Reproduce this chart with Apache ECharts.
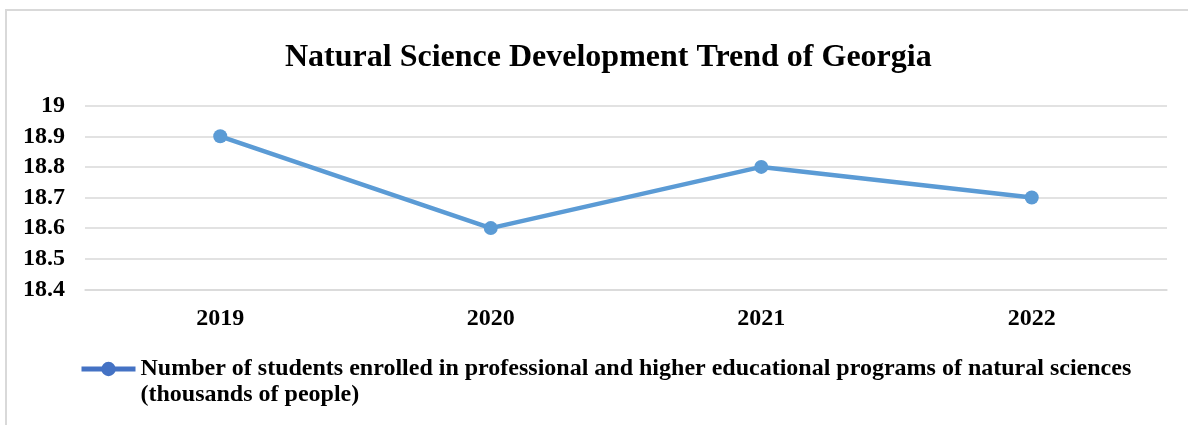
<!DOCTYPE html>
<html>
<head>
<meta charset="utf-8">
<script src="https://cdn.jsdelivr.net/npm/echarts@6/dist/echarts.min.js"></script>
<style>
  html, body { margin: 0; padding: 0; background: #fff; }
  #chart { width: 1188px; height: 425px; }
</style>
</head>
<body>
<div id="chart"></div>
<script>
// Enrolment in natural-science programmes, Georgia (thousands of people)
const titleText = 'Natural Science Development Trend of Georgia';
const years = ['2019', '2020', '2021', '2022'];
const students = [18.9, 18.6, 18.8, 18.7];
const seriesName = 'Number of students enrolled in professional and higher educational programs of natural sciences (thousands of people)';
const legendLines = ['Number of students enrolled in professional and higher educational programs of natural sciences', '(thousands of people)'];
const yMin = 18.4, yMax = 19, yStep = 0.1;

const serif = '"Liberation Serif", "Times New Roman", serif';
const chart = echarts.init(document.getElementById('chart'), null, { renderer: 'canvas' });

chart.setOption({
  backgroundColor: '#ffffff',
  animation: false,
  graphic: [{
    type: 'rect',
    shape: { x: 6, y: 10, width: 1220, height: 500 },
    style: { fill: 'none', stroke: '#d9d9d9', lineWidth: 2 },
    silent: true
  }],
  title: {
    text: titleText,
    left: 285,
    top: 42,
    padding: 0,
    textStyle: { fontFamily: serif, fontWeight: 'bold', fontSize: 32, color: '#000' }
  },
  legend: {
    left: 79,
    top: 330,
    padding: 0,
    itemWidth: 54,
    itemHeight: 18,
    itemStyle: { color: '#4472c4' },
    lineStyle: { color: '#4472c4', width: 5 },
    // leading blank line keeps the icon level with the first text line
    formatter: () => '\n' + legendLines.join('\n'),
    textStyle: {
      fontFamily: serif, fontWeight: 'bold', fontSize: 24, color: '#000',
      lineHeight: 26
    },
    data: [seriesName]
  },
  grid: { left: 85, right: 21, top: 105.7, bottom: 135.7, containLabel: false },
  xAxis: {
    type: 'category',
    data: years,
    boundaryGap: true,
    axisLine: { show: true, lineStyle: { color: '#d9d9d9', width: 1.5 } },
    axisTick: { show: false },
    axisLabel: { fontFamily: serif, fontWeight: 'bold', fontSize: 24, color: '#000', margin: 17 }
  },
  yAxis: {
    type: 'value',
    min: yMin,
    max: yMax,
    interval: yStep,
    axisLine: { show: false },
    axisTick: { show: false },
    splitLine: { lineStyle: { color: '#d9d9d9', width: 1.5 } },
    axisLabel: { fontFamily: serif, fontWeight: 'bold', fontSize: 24, color: '#000', margin: 20 }
  },
  series: [{
    name: seriesName,
    type: 'line',
    data: students,
    symbol: 'circle',
    symbolSize: 14,
    lineStyle: { color: '#5b9bd5', width: 4.5 },
    itemStyle: { color: '#5b9bd5' }
  }]
});
</script>
</body>
</html>
